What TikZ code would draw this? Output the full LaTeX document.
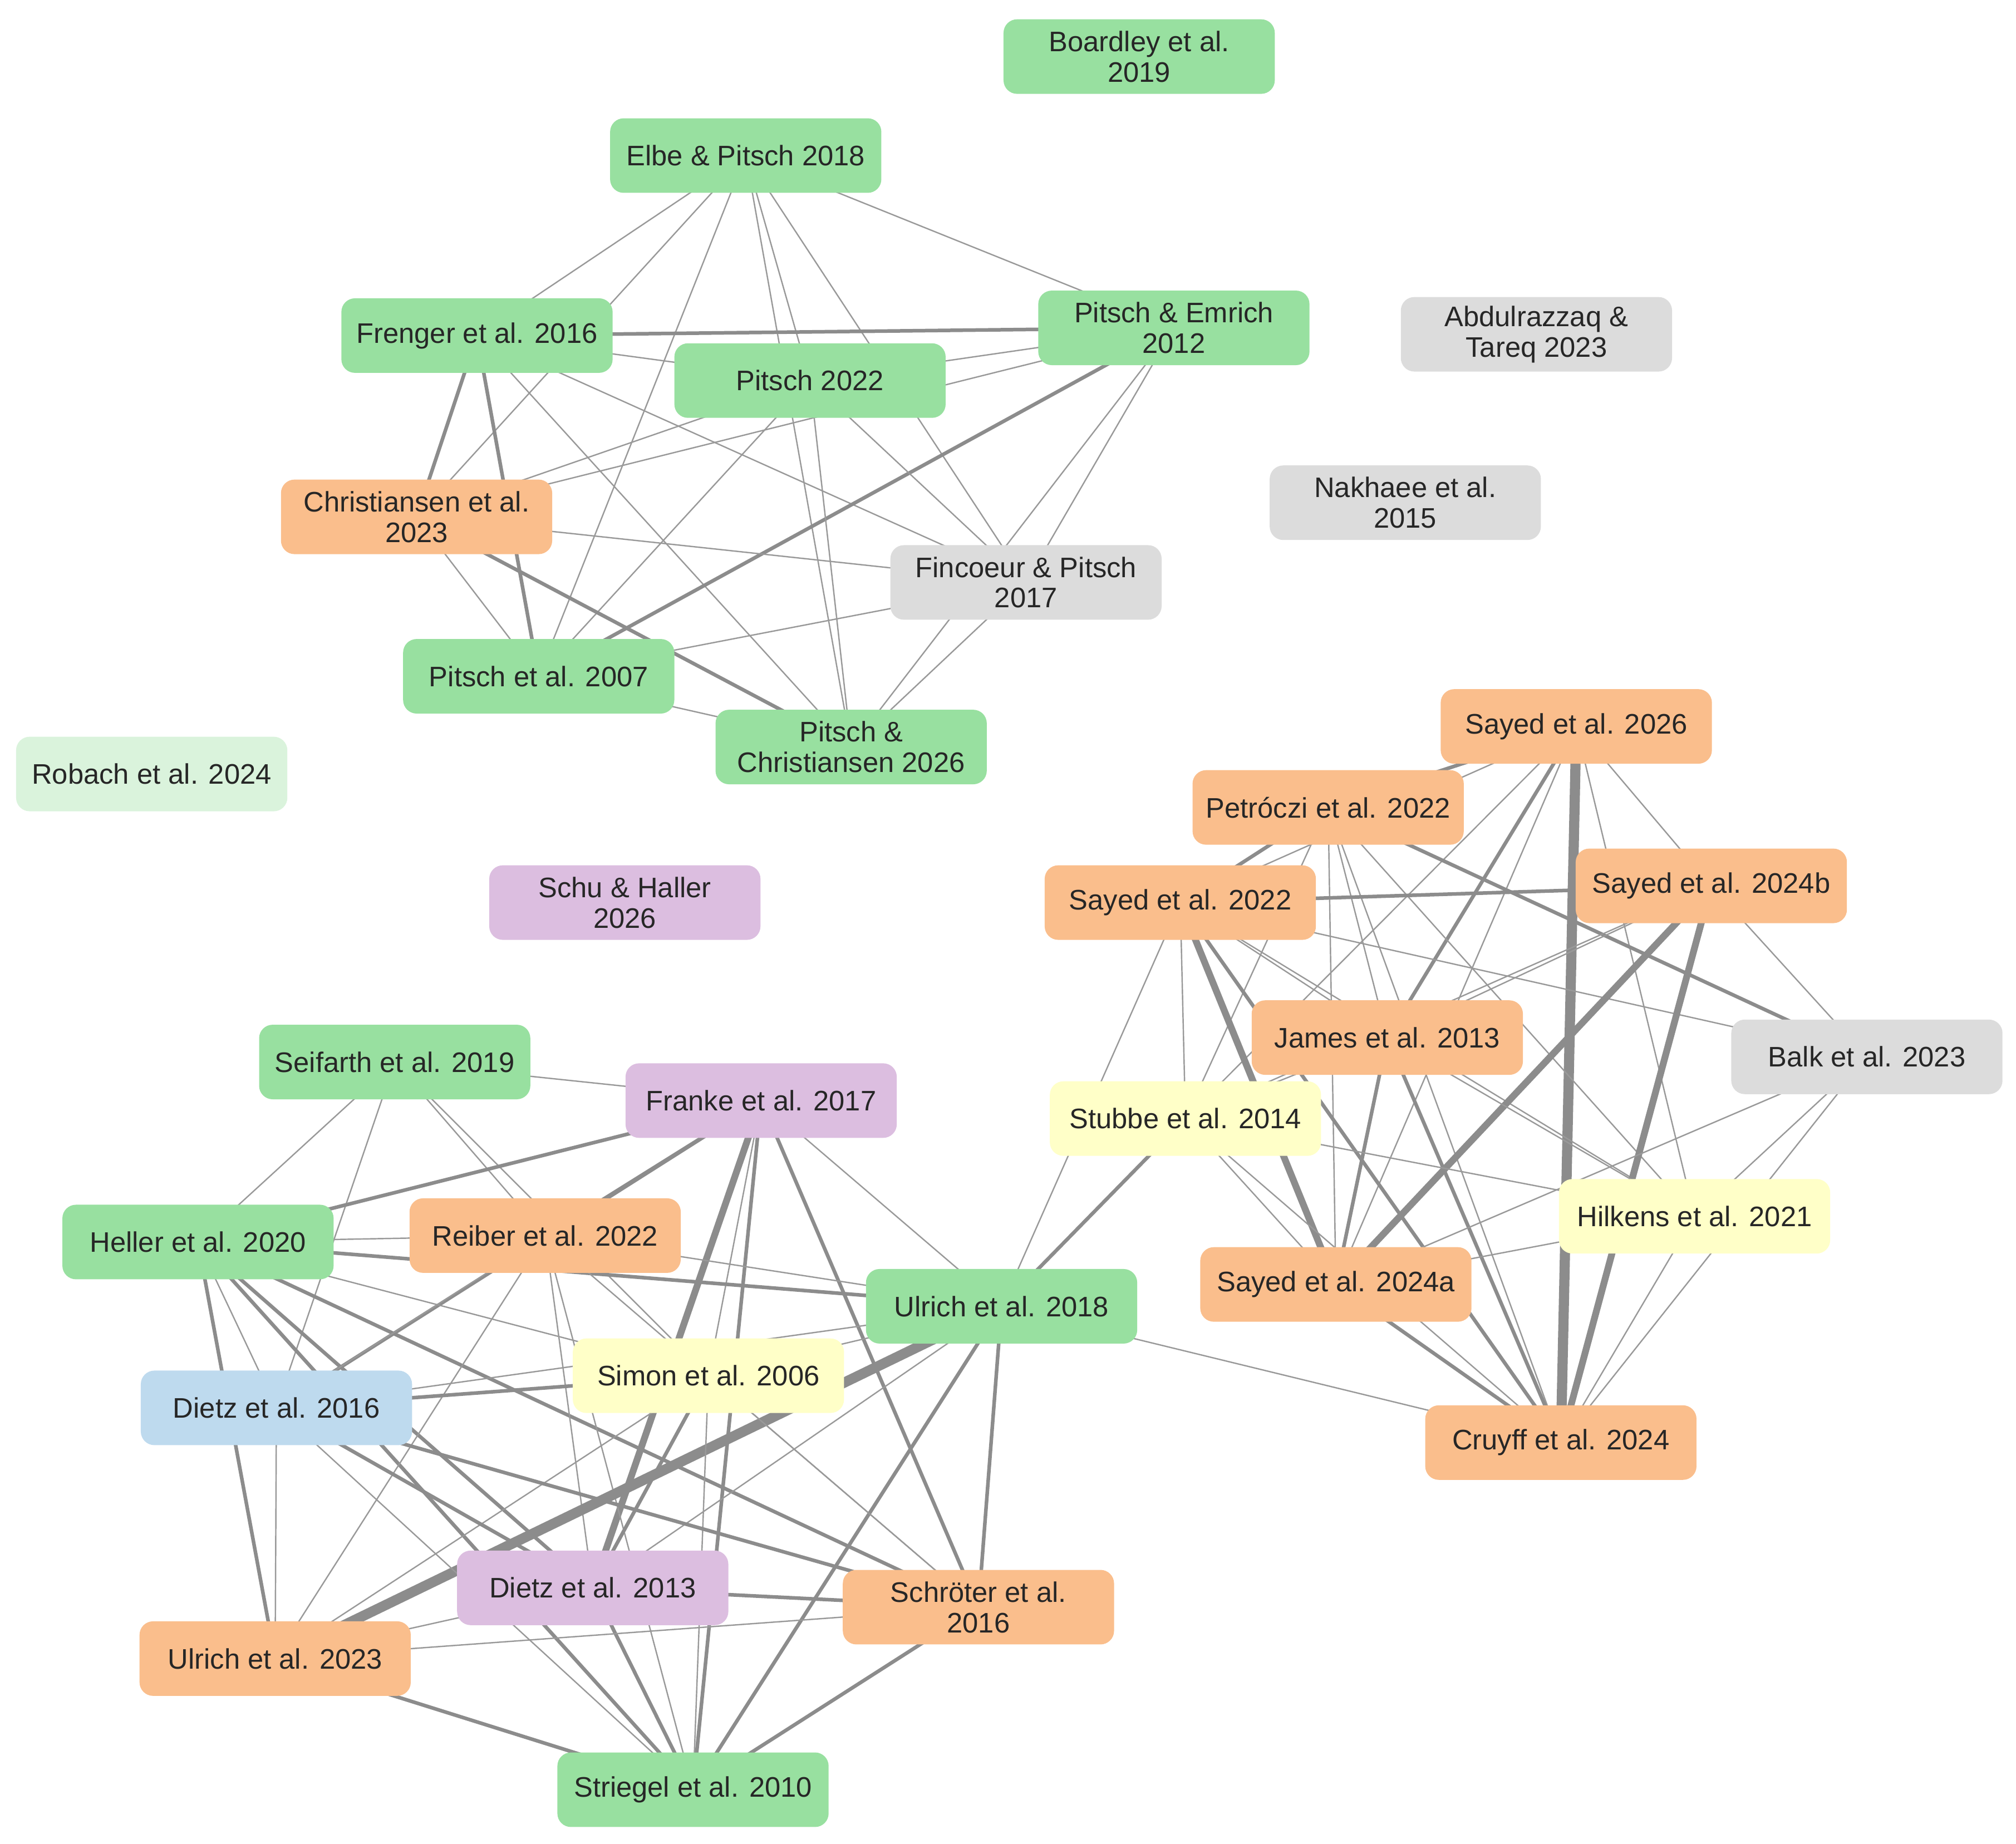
\documentclass[tikz,border=0pt]{standalone}
\usepackage{fontspec}
\setmainfont{Liberation Sans}
\begin{document}
\begin{tikzpicture}[x=0.02cm,y=-0.02cm,
 n/.style={rounded corners=6pt,minimum width=4.22cm,minimum height=1.16cm,align=center,inner sep=1pt,font=\fontsize{12.5}{13.5}\selectfont,text=black!85},
 gn/.style={n,fill={rgb,255:red,152;green,224;blue,160}},
 lg/.style={n,fill={rgb,255:red,218;green,243;blue,220}},
 gr/.style={n,fill={rgb,255:red,220;green,220;blue,220}},
 or/.style={n,fill={rgb,255:red,250;green,190;blue,140}},
 yl/.style={n,fill={rgb,255:red,255;green,255;blue,200}},
 pu/.style={n,fill={rgb,255:red,220;green,190;blue,224}},
 bl/.style={n,fill={rgb,255:red,190;green,218;blue,238}},
 e1/.style={draw=black!40,line width=0.6pt},
 e2/.style={draw=black!45,line width=1.6pt},
 e3/.style={draw=black!45,line width=3pt},
 e4/.style={draw=black!45,line width=4.5pt}]
\useasboundingbox (0,0) rectangle (1568,1434);
\path
 (886,44) coordinate (boa) (580,121) coordinate (elb) (371,261) coordinate (fre)
 (913,255) coordinate (pem) (630,296) coordinate (p22) (1195,260) coordinate (abd)
 (324,402) coordinate (chr) (1093,391) coordinate (nak) (798,453) coordinate (fin)
 (419,526) coordinate (p07) (662,581) coordinate (pc26) (118,602) coordinate (rob)
 (486,702) coordinate (sch) (1226,565) coordinate (s26) (1033,628) coordinate (pet)
 (1331,689) coordinate (s24b) (918,702) coordinate (s22) (1079,807) coordinate (jam)
 (1452,822) coordinate (bal) (922,870) coordinate (stu) (1318,946) coordinate (hil)
 (1039,999) coordinate (s24a) (1214,1122) coordinate (cru) (307,826) coordinate (sei)
 (592,856) coordinate (fra) (154,966) coordinate (hel) (424,961) coordinate (rei)
 (779,1016) coordinate (u18) (551,1070) coordinate (sim) (215,1095) coordinate (d16)
 (461,1235) coordinate (d13) (761,1250) coordinate (srt) (214,1290) coordinate (u23)
 (539,1392) coordinate (str);
% cluster 1
\foreach \a/\b/\s in {elb/fre/e1,elb/pem/e1,elb/p22/e1,elb/chr/e1,elb/p07/e1,elb/pc26/e1,elb/fin/e1,
 fre/pem/e2,fre/p22/e1,fre/chr/e2,fre/p07/e2,fre/fin/e1,fre/pc26/e1,
 pem/p22/e1,pem/chr/e1,pem/p07/e2,pem/fin/e1,pem/pc26/e1,
 p22/chr/e1,p22/p07/e1,p22/fin/e1,p22/pc26/e1,
 chr/fin/e1,chr/p07/e1,chr/pc26/e2,fin/p07/e1,fin/pc26/e1,p07/pc26/e1}
 \draw[\s] (\a) -- (\b);
% cluster 2
\foreach \a/\b/\s in {s26/pet/e2,s26/s22/e1,s26/jam/e2,s26/cru/e4,s26/s24b/e1,s26/s24a/e1,s26/hil/e1,s26/stu/e1,
 pet/s22/e2,pet/jam/e1,pet/bal/e2,pet/s24a/e1,pet/cru/e1,pet/stu/e1,pet/hil/e1,
 s22/s24b/e2,s22/s24a/e3,s22/cru/e2,s22/jam/e1,s22/bal/e1,s22/stu/e1,s22/u18/e1,s22/hil/e1,
 s24b/s24a/e3,s24b/cru/e3,s24b/bal/e1,s24b/jam/e1,s24b/stu/e1,
 jam/s24a/e2,jam/cru/e2,jam/stu/e1,jam/hil/e1,
 stu/u18/e2,stu/s24a/e1,stu/cru/e1,stu/hil/e1,
 bal/s24a/e1,bal/cru/e1,bal/hil/e1,hil/s24a/e1,hil/cru/e1,s24a/cru/e2,u18/cru/e1}
 \draw[\s] (\a) -- (\b);
% cluster 3
\foreach \a/\b/\s in {sei/fra/e1,sei/hel/e1,sei/rei/e1,sei/d16/e1,sei/sim/e1,
 fra/hel/e2,fra/rei/e2,fra/u18/e1,fra/d13/e3,fra/srt/e2,fra/d16/e2,fra/str/e2,fra/sim/e1,
 hel/rei/e1,hel/u18/e2,hel/sim/e1,hel/d16/e1,hel/d13/e2,hel/srt/e2,hel/u23/e2,hel/str/e2,
 rei/u18/e1,rei/d16/e1,rei/d13/e1,rei/srt/e1,rei/str/e1,rei/u23/e1,
 u18/sim/e1,u18/d16/e1,u18/d13/e1,u18/srt/e2,u18/u23/e4,u18/str/e2,
 sim/d16/e2,sim/d13/e2,sim/srt/e1,sim/u23/e1,sim/str/e1,
 d16/d13/e2,d16/srt/e2,d16/u23/e1,d16/str/e1,
 d13/srt/e2,d13/u23/e1,d13/str/e2,srt/u23/e1,srt/str/e2,u23/str/e2}
 \draw[\s] (\a) -- (\b);
% nodes
\node[gn] (nboa) at (boa) {Boardley et al.\\2019};
\node[gn] (nelb) at (elb) {Elbe \& Pitsch 2018};
\node[gn] (nfre) at (fre) {Frenger et al. 2016};
\node[gn] (npem) at (pem) {Pitsch \& Emrich\\2012};
\node[gn] (np22) at (p22) {Pitsch 2022};
\node[gr] (nabd) at (abd) {Abdulrazzaq \&\\Tareq 2023};
\node[or] (nchr) at (chr) {Christiansen et al.\\2023};
\node[gr] (nnak) at (nak) {Nakhaee et al.\\2015};
\node[gr] (nfin) at (fin) {Fincoeur \& Pitsch\\2017};
\node[gn] (np07) at (p07) {Pitsch et al. 2007};
\node[gn] (npc26) at (pc26) {Pitsch \&\\Christiansen 2026};
\node[lg] (nrob) at (rob) {Robach et al. 2024};
\node[pu] (nsch) at (sch) {Schu \& Haller\\2026};
\node[or] (ns26) at (s26) {Sayed et al. 2026};
\node[or] (npet) at (pet) {Petróczi et al. 2022};
\node[or] (ns24b) at (s24b) {Sayed et al. 2024b};
\node[or] (ns22) at (s22) {Sayed et al. 2022};
\node[or] (njam) at (jam) {James et al. 2013};
\node[gr] (nbal) at (bal) {Balk et al. 2023};
\node[yl] (nstu) at (stu) {Stubbe et al. 2014};
\node[yl] (nhil) at (hil) {Hilkens et al. 2021};
\node[or] (ns24a) at (s24a) {Sayed et al. 2024a};
\node[or] (ncru) at (cru) {Cruyff et al. 2024};
\node[gn] (nsei) at (sei) {Seifarth et al. 2019};
\node[pu] (nfra) at (fra) {Franke et al. 2017};
\node[gn] (nhel) at (hel) {Heller et al. 2020};
\node[or] (nrei) at (rei) {Reiber et al. 2022};
\node[gn] (nu18) at (u18) {Ulrich et al. 2018};
\node[yl] (nsim) at (sim) {Simon et al. 2006};
\node[bl] (nd16) at (d16) {Dietz et al. 2016};
\node[pu] (nd13) at (d13) {Dietz et al. 2013};
\node[or] (nsrt) at (srt) {Schröter et al.\\2016};
\node[or] (nu23) at (u23) {Ulrich et al. 2023};
\node[gn] (nstr) at (str) {Striegel et al. 2010};
\end{tikzpicture}
\end{document}
